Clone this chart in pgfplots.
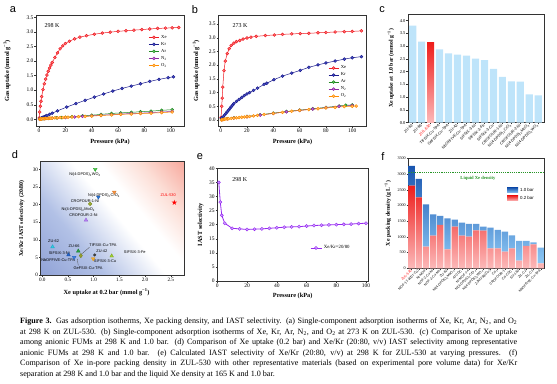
\documentclass[border=0pt]{standalone}
\usepackage{fontspec}
\setmainfont{Liberation Serif}
\newfontfamily\arial{Liberation Sans}
\newfontfamily\djv{DejaVu Sans}
\usepackage{pgfplots}
\pgfplotsset{compat=1.18}

\definecolor{xec}{RGB}{238,28,36}
\definecolor{xef}{RGB}{255,120,120}
\definecolor{krc}{RGB}{28,28,140}
\definecolor{krf}{RGB}{70,80,200}
\definecolor{arc}{RGB}{34,139,34}
\definecolor{arf}{RGB}{100,200,100}
\definecolor{nnc}{RGB}{140,40,160}
\definecolor{nnf}{RGB}{200,110,220}
\definecolor{ooc}{RGB}{255,140,0}
\definecolor{oof}{RGB}{255,195,110}
\definecolor{lblue}{RGB}{190,228,250}
\definecolor{selc}{RGB}{150,40,240}
\definecolor{self}{RGB}{205,160,255}
\definecolor{redtop}{RGB}{238,30,28}
\definecolor{redbot}{RGB}{252,185,185}
\definecolor{bluetop}{RGB}{25,85,175}
\definecolor{bluebot}{RGB}{140,200,245}
\definecolor{liqg}{RGB}{40,150,40}
\definecolor{bg1}{RGB}{118,138,202}
\definecolor{bg2}{RGB}{178,193,230}
\definecolor{bg3}{RGB}{252,222,214}
\definecolor{bg4}{RGB}{243,108,92}
\pgfdeclarehorizontalshading{dshade}{100bp}{color(0bp)=(bg1); color(34bp)=(bg2); color(52bp)=(white); color(60bp)=(white); color(72bp)=(bg3); color(100bp)=(bg4)}

\newcommand{\fs}[1]{\fontsize{#1}{#1}\selectfont}

\pgfplotsset{
  base/.style={scale only axis, anchor=north west,
    axis line style={black!80, line width=0.45pt},
    every tick/.style={black!80, line width=0.4pt},
    tick align=outside, major tick length=1.6pt,
    xtick pos=bottom, ytick pos=left,
    /pgf/number format/assume math mode=true,
    /pgf/number format/1000 sep={},
    scaled ticks=false,
    tick label style={inner sep=0.8pt},
    label style={font=\fs{6.3}\bfseries, inner sep=0pt},
  },
  iso/.style={mark=*, mark size=1.45pt, line width=0.5pt},
  isoleg/.style={legend image code/.code={\draw[mark repeat=2,mark phase=2,##1] plot coordinates {(0pt,0pt)(5pt,0pt)(10pt,0pt)};}},
  onedec/.style={/pgf/number format/fixed, /pgf/number format/fixed zerofill, /pgf/number format/precision=1},
}

\begin{document}
\begin{tikzpicture}
\useasboundingbox (0,0) rectangle (557pt,-383pt);

% panel letters
\node[font=\arial\fs{11}] at (13pt,-10pt) {a};
\node[font=\arial\fs{11}] at (195pt,-10pt) {b};
\node[font=\arial\fs{11}] at (382pt,-10pt) {c};
\node[font=\arial\fs{11}] at (15pt,-155pt) {d};
\node[font=\arial\fs{11}] at (200pt,-157pt) {e};
\node[font=\arial\fs{11}] at (383pt,-157pt) {f};

% ---------------- panel a ----------------
\begin{axis}[base, isoleg, at={(36pt,-15pt)}, width=148pt, height=111.7pt,
  xmin=-2.3, xmax=110, ymin=-0.254, ymax=3.58,
  xtick={0,20,...,100}, ytick={0,0.5,...,3.5},
  yticklabel style={onedec},
  tick label style={font=\fs{5.5}},
  xlabel={Pressure (kPa)}, ylabel={Gas uptake (mmol g\textsuperscript{−1})},
  xlabel style={at={(axis description cs:0.5,-0.137)}, anchor=center},
  ylabel style={at={(axis description cs:-0.196,0.5)}, anchor=center},
  legend cell align=left,
  legend style={at={(axis description cs:0.76,0.84)}, anchor=north west, draw=none, fill=none, font=\fs{4.6}, row sep=-1.5pt, inner sep=0pt},
]
\addplot[iso, color=xec, mark options={fill=xef}] coordinates {(0.2,0.05)(0.5,0.25)(1,0.45)(1.5,0.62)(2,0.78)(3,1.02)(4,1.22)(5,1.38)(6,1.52)(7,1.65)(8,1.76)(9,1.86)(10,1.95)(12,2.12)(14,2.28)(16,2.42)(18,2.52)(20,2.6)(23,2.68)(27,2.76)(31,2.82)(36,2.87)(42,2.92)(48,2.96)(54,2.99)(60,3.02)(66,3.04)(72,3.06)(78,3.08)(84,3.1)(90,3.12)(96,3.13)(101,3.14)(106,3.15)};
\addlegendentry{Xe}
\addplot[iso, color=krc, mark options={fill=krf}] coordinates {(0.3,0.01)(1,0.03)(2,0.05)(3,0.07)(4,0.09)(5,0.11)(6,0.13)(8,0.17)(10,0.21)(14,0.29)(21,0.42)(28,0.54)(35,0.65)(42,0.76)(49,0.87)(56,0.97)(63,1.06)(70,1.14)(77,1.22)(84,1.3)(91,1.37)(98,1.43)(102,1.46)};
\addlegendentry{Kr}
\addplot[iso, color=arc, mark options={fill=arf}] coordinates {(0.5,0.01)(1,0.01)(2,0.02)(3,0.02)(5,0.03)(7,0.03)(10,0.04)(13,0.05)(17,0.06)(20,0.07)(25,0.09)(33,0.12)(40,0.14)(47,0.17)(55,0.2)(62,0.22)(70,0.24)(77,0.26)(85,0.28)(93,0.31)(101,0.33)};
\addlegendentry{Ar}
\addplot[iso, color=nnc, mark options={fill=nnf}] coordinates {(0.5,0.0)(1,0.01)(2,0.01)(4,0.02)(7,0.03)(10,0.04)(14,0.05)(20,0.06)(27,0.08)(33,0.1)(40,0.12)(47,0.14)(55,0.16)(62,0.18)(70,0.2)(77,0.21)(85,0.23)(93,0.25)(101,0.27)};
\addlegendentry{N\textsubscript{2}}
\addplot[iso, color=ooc, mark options={fill=oof}] coordinates {(0.5,0.0)(1,0.01)(1.5,0.01)(2,0.01)(3,0.02)(4,0.02)(5,0.03)(6,0.03)(7,0.03)(8,0.04)(9,0.04)(10,0.04)(12,0.05)(14,0.05)(16,0.06)(18,0.06)(20,0.07)(22,0.07)(25,0.08)(30,0.09)(35,0.1)(40,0.11)(47,0.13)(55,0.15)(62,0.17)(70,0.18)(77,0.2)(85,0.21)(93,0.23)(101,0.25)};
\addlegendentry{O\textsubscript{2}}
\node[font=\fs{6}] at (axis description cs:0.108,0.91) {298 K};
\end{axis}

% ---------------- panel b ----------------
\begin{axis}[base, isoleg, at={(218.3pt,-15pt)}, width=148.4pt, height=111.7pt,
  xmin=-1.8, xmax=111, ymin=-0.244, ymax=3.828,
  xtick={0,20,...,100}, ytick={0,0.5,...,3.5},
  yticklabel style={onedec},
  tick label style={font=\fs{5.5}},
  xlabel={Pressure (kPa)}, ylabel={Gas uptake (mmol g\textsuperscript{−1})},
  xlabel style={at={(axis description cs:0.5,-0.137)}, anchor=center},
  ylabel style={at={(axis description cs:-0.15,0.5)}, anchor=center},
  legend cell align=left,
  legend style={at={(axis description cs:0.74,0.565)}, anchor=north west, draw=none, fill=none, font=\fs{4.6}, row sep=-1.5pt, inner sep=0pt},
]
\addplot[iso, color=xec, mark options={fill=xef}] coordinates {(0.3,0.1)(0.8,0.5)(1.2,0.8)(1.6,1.2)(2.5,1.8)(3.5,2.15)(5,2.42)(6.5,2.6)(8,2.72)(10,2.8)(12,2.86)(14.5,2.9)(17,2.95)(20,2.99)(23,3.02)(27,3.05)(34,3.08)(40.8,3.1)(47,3.12)(54,3.14)(60.5,3.15)(67,3.16)(74,3.18)(80,3.19)(87,3.21)(94,3.22)(100,3.23)(107,3.25)};
\addlegendentry{Xe}
\addplot[iso, color=krc, mark options={fill=krf}] coordinates {(0.5,0.05)(1,0.08)(2,0.12)(3,0.18)(4,0.24)(5,0.3)(6,0.36)(7,0.42)(8,0.48)(9,0.54)(10,0.6)(12,0.68)(14,0.75)(16,0.82)(18,0.89)(20,0.95)(22,1.0)(25,1.08)(28,1.16)(33,1.3)(35,1.34)(40.5,1.47)(47,1.6)(54,1.71)(60.5,1.81)(67,1.92)(74,2.01)(80,2.08)(87,2.15)(94,2.22)(100,2.27)(107,2.31)};
\addlegendentry{Kr}
\addplot[iso, color=arc, mark options={fill=arf}] coordinates {(1,0.02)(5,0.05)(10,0.08)(20,0.13)(30,0.19)(40,0.25)(50,0.31)(60,0.36)(70,0.41)(80,0.46)(90,0.51)(95,0.54)(100,0.55)};
\addlegendentry{Ar}
\addplot[iso, color=nnc, mark options={fill=nnf}] coordinates {(1,0.01)(5,0.04)(10,0.07)(20,0.12)(30,0.18)(40,0.24)(50,0.3)(60,0.35)(70,0.4)(80,0.45)(90,0.5)(100,0.53)};
\addlegendentry{N\textsubscript{2}}
\addplot[iso, color=ooc, mark options={fill=oof}] coordinates {(0.5,0.0)(1,0.01)(2,0.02)(3,0.03)(4,0.04)(5,0.04)(6,0.05)(8,0.06)(10,0.07)(12,0.08)(14,0.09)(16,0.1)(18,0.11)(20,0.12)(22,0.13)(25,0.15)(28,0.17)(33,0.2)(40,0.24)(47,0.28)(54,0.32)(60,0.35)(67,0.38)(74,0.41)(80,0.44)(87,0.46)(94,0.49)(100,0.5)(103,0.51)};
\addlegendentry{O\textsubscript{2}}
\node[font=\fs{6}] at (axis description cs:0.146,0.91) {273 K};
\end{axis}

% ---------------- panel c ----------------
\begin{axis}[base, at={(408pt,-14pt)}, width=136pt, height=108.7pt,
  xmin=-0.52, xmax=14.64, ymin=0, ymax=4.26,
  ytick={0,0.5,...,4}, yticklabel style={onedec},
  xtick={0,...,14},
  xticklabels={ZU-62,ZU-66,\textcolor{red}{ZUL-530},TIFSIX-Cu-TPA,GeFSIX-Cu-TPA,ZU-42,NbOFFIVE-Cu-TPA,SIFSIX-3-Ni,SIFSIX-3-Fe,SIFSIX-3-Cu,CROFOUR-1-Ni,{Ni(4-DPDS)\textsubscript{2}CrO\textsubscript{4}},CROFOUR-2-Ni,{Ni(4-DPDS)\textsubscript{2}MoO\textsubscript{4}},{Ni(4-DPDS)\textsubscript{2}WO\textsubscript{4}}},
  yticklabel style={font=\fs{4.5}},
  xticklabel style={font=\arial\fs{3.8}, rotate=45, anchor=east, inner sep=0.6pt},
  ylabel={Xe uptake at 1.0 bar (mmol g\textsuperscript{−1})},
  ylabel style={at={(axis description cs:-0.125,0.5)}, anchor=center, font=\fs{5.8}\bfseries},
]
\addplot[ybar, bar width=7.2pt, bar shift=0pt, fill=lblue, draw=none] coordinates {(0,3.8)(1,3.18)(3,2.87)(4,2.72)(5,2.67)(6,2.63)(7,2.51)(8,2.45)(9,2.11)(10,1.8)(11,1.62)(12,1.61)(13,1.11)(14,1.07)};
\addplot[ybar, bar width=7.2pt, bar shift=0pt, draw=none, top color=redtop, bottom color=redbot] coordinates {(2,3.13)};
\end{axis}

% ---------------- panel d ----------------
\begin{axis}[base, at={(40.7pt,-161pt)}, width=143.3pt, height=114.7pt,
  xmin=-0.031, xmax=2.757, ymin=-0.2, ymax=32.36,
  xtick={0,0.5,...,2.5}, xticklabel style={onedec},
  ytick={0,5,...,30},
  tick label style={font=\fs{5.2}},
  axis on top,
  xlabel={Xe uptake at 0.2 bar (mmol g\textsuperscript{−1})},
  ylabel={Xe/Kr IAST selectivity (20/80)},
  xlabel style={at={(axis description cs:0.46,-0.142)}, anchor=center},
  ylabel style={at={(axis description cs:-0.133,0.5)}, anchor=center, font=\fs{5.9}\bfseries},
]
\shade[shading=dshade, shading angle=40] (rel axis cs:0,0) rectangle (rel axis cs:1,1);
\addplot[only marks, mark=triangle*, mark size=2.1pt, mark options={rotate=180, fill={rgb,255:red,70;green,200;blue,70}, draw={rgb,255:red,40;green,160;blue,40}}] coordinates {(1.03,30.0)};
\addplot[only marks, mark=triangle*, mark size=2.1pt, mark options={rotate=180, fill={rgb,255:red,245;green,150;blue,70}, draw={rgb,255:red,220;green,120;blue,40}}] coordinates {(1.40,23.5)};
\addplot[only marks, mark=triangle*, mark size=2.1pt, mark options={rotate=180, fill={rgb,255:red,40;green,120;blue,210}, draw={rgb,255:red,30;green,90;blue,180}}] coordinates {(1.09,22.1)};
\addplot[only marks, mark=*, mark size=1.8pt, mark options={fill={rgb,255:red,160;green,175;blue,50}, draw={rgb,255:red,120;green,135;blue,30}}] coordinates {(0.93,20.2)};
\addplot[only marks, mark=triangle*, mark size=2.1pt, mark options={fill={rgb,255:red,185;green,130;blue,240}, draw={rgb,255:red,150;green,100;blue,220}}] coordinates {(0.85,15.6)};
\addplot[only marks, mark=triangle*, mark size=2.1pt, mark options={fill={rgb,255:red,50;green,205;blue,225}, draw={rgb,255:red,30;green,170;blue,200}}] coordinates {(0.20,8.0)};
\addplot[only marks, mark=triangle*, mark size=2.1pt, mark options={fill={rgb,255:red,40;green,165;blue,70}, draw={rgb,255:red,30;green,130;blue,50}}] coordinates {(0.70,6.8)};
\addplot[only marks, mark=triangle*, mark size=2.1pt, mark options={fill={rgb,255:red,35;green,100;blue,200}, draw={rgb,255:red,25;green,80;blue,170}}] coordinates {(0.51,5.7)};
\addplot[only marks, mark=triangle*, mark size=2.1pt, mark options={rotate=180, fill={rgb,255:red,60;green,130;blue,225}, draw={rgb,255:red,40;green,100;blue,200}}] coordinates {(0.62,5.0)};
\addplot[only marks, mark=diamond*, mark size=2.1pt, mark options={fill={rgb,255:red,150;green,160;blue,45}, draw={rgb,255:red,120;green,130;blue,30}}] coordinates {(0.75,5.5)};
\addplot[only marks, mark=*, mark size=1.3pt, mark options={fill={rgb,255:red,70;green,70;blue,70}, draw={rgb,255:red,50;green,50;blue,50}}] coordinates {(1.02,5.7)};
\addplot[only marks, mark=triangle*, mark size=2.1pt, mark options={rotate=180, fill={rgb,255:red,245;green,175;blue,45}, draw={rgb,255:red,220;green,150;blue,30}}] coordinates {(0.99,4.6)};
\addplot[only marks, mark=triangle*, mark size=2.1pt, mark options={fill={rgb,255:red,160;green,205;blue,50}, draw={rgb,255:red,130;green,175;blue,30}}] coordinates {(1.35,5.4)};
\addplot[only marks, mark=text, text mark={\textcolor{red}{\djv\fs{7.5}★}}] coordinates {(2.57,20.4)};
\draw[black!70, line width=0.3pt] (0.92,7.9) -- (0.76,5.9);
\draw[black!70, line width=0.3pt] (0.7,2.7) -- (0.68,4.6);
\begin{scope}[font=\arial\fs{3.9}]
\node at (0.83,28.4) {Ni(4-DPDS)\textsubscript{2}WO\textsubscript{4}};
\node[text=red] at (2.45,22.6) {ZUL-530};
\node at (1.20,22.6) {Ni(4-DPDS)\textsubscript{2}CrO\textsubscript{4}};
\node at (0.83,21.1) {CROFOUR-1-Ni};
\node at (0.70,18.7) {Ni(4-DPDS)\textsubscript{2}MoO\textsubscript{4}};
\node at (0.80,16.9) {CROFOUR-2-Ni};
\node at (0.22,9.6) {ZU-62};
\node at (0.62,8.1) {ZU-66};
\node at (1.18,8.6) {TIFSIX-Cu-TPA};
\node at (1.16,6.7) {ZU-42};
\node at (0.33,6.3) {SIFSIX-3-Ni};
\node at (1.80,6.5) {SIFSIX-3-Fe};
\node at (0.31,4.2) {NbOFFIVE-Cu-TPA};
\node at (1.22,3.9) {SIFSIX-3-Cu};
\node at (0.89,2.0) {GeFSIX-Cu-TPA};
\end{scope}
\end{axis}

% ---------------- panel e ----------------
\begin{axis}[base, at={(217.3pt,-168.3pt)}, width=150.7pt, height=112.7pt,
  xmin=0, xmax=101.3, ymin=0, ymax=40,
  xtick={0,20,...,100}, ytick={0,5,...,40},
  tick label style={font=\fs{5.5}},
  xlabel={Pressure (kPa)}, ylabel={IAST selectivity},
  xlabel style={at={(axis description cs:0.5,-0.133)}, anchor=center},
  ylabel style={at={(axis description cs:-0.11,0.5)}, anchor=center},
  legend style={at={(axis description cs:0.615,0.293)}, anchor=west, draw=none, fill=none, font=\fs{4.8}, inner sep=0pt},
  legend image code/.code={\draw[mark repeat=2,mark phase=2,#1] plot coordinates {(0pt,0pt)(5.5pt,0pt)(11pt,0pt)};},
]
\addplot[selc, line width=0.8pt, mark=*, mark size=1.6pt, mark options={fill=self, draw=selc, line width=0.4pt}] coordinates {(1,35)(2,28)(3,23.3)(5,20.5)(10,18.7)(15,18.5)(20,18.3)(25,18.4)(30,18.5)(35,18.7)(40,18.9)(45,19.1)(50,19.2)(55,19.3)(60,19.5)(65,19.7)(70,19.8)(75,19.9)(80,20.0)(85,20.1)(90,20.2)(95,20.4)(100,20.5)};
\addlegendentry{Xe/Kr=20/80}
\node[font=\fs{6}] at (axis description cs:0.15,0.896) {298 K};
\end{axis}

% ---------------- panel f ----------------
\begin{axis}[base, at={(408.3pt,-158.3pt)}, width=135.7pt, height=110pt,
  ybar stacked, bar width=6.3pt,
  xmin=-0.47, xmax=18.46, ymin=0, ymax=3500,
  ytick={0,500,...,3500},
  xtick={0,...,18},
  xticklabels={\textcolor{red}{ZUL-530},MOF-11 (AlCl-Cu),Ni-MOF,NOF-2-Cu-Ni,NOF-2-Cu-Mn,ZU-62,{Ni(4-DPDS)\textsubscript{2}MoO\textsubscript{4}},Al-CDC,Ni-MOF-74,{Ni(4-DPDS)\textsubscript{2}CrO\textsubscript{4}},{Ni(4-DPDS)\textsubscript{2}WO\textsubscript{4}},ZJNU-98(Cu),Co\textsubscript{3},CROFOUR-1,Co-CDC,SU-160,ZIL-C2,ZIL-C1,NbOFFIVE-Cu-TPA},
  yticklabel style={font=\fs{4.1}},
  xticklabel style={font=\arial\fs{3.4}, rotate=45, anchor=east, inner sep=0.6pt},
  ylabel={Xe packing density (g L\textsuperscript{−1})},
  ylabel style={at={(axis description cs:-0.15,0.5)}, anchor=center, font=\fs{5.8}\bfseries},
  reverse legend,
  legend style={at={(axis description cs:0.727,0.75)}, anchor=north west, draw=none, fill=none, font=\arial\fs{4.4}, row sep=-0.8pt, inner sep=0pt},
  legend image code/.code={\fill[#1] (0pt,-2.6pt) rectangle (11pt,2.6pt);},
]
\addplot[draw=none, top color=redtop, bottom color=redbot] coordinates {(0,2630)(1,2260)(2,690)(3,1040)(4,1380)(5,605)(6,1326)(7,1040)(8,1008)(9,1209)(10,1198)(11,636)(12,636)(13,530)(14,636)(15,244)(16,710)(17,764)(18,159)};
\addlegendentry{0.2 bar}
\addplot[draw=none, top color=bluetop, bottom color=bluebot] coordinates {(0,626)(1,582)(2,1346)(3,678)(4,285)(5,986)(6,222)(7,413)(8,403)(9,202)(10,128)(11,658)(12,584)(13,637)(14,414)(15,626)(16,160)(17,63)(18,499)};
\addlegendentry{1.0 bar}
\end{axis}
\begin{axis}[scale only axis, anchor=north west, at={(408.3pt,-158.3pt)}, width=135.7pt, height=110pt,
  xmin=-0.47, xmax=18.46, ymin=0, ymax=3500, hide axis]
\addplot[liqg, dashed, dash pattern=on 1.3pt off 0.9pt, line width=0.6pt] coordinates {(-0.47,3050)(18.46,3050)};
\node[font=\fs{4.6}\bfseries, text=liqg] at (9.25,2873) {Liquid Xe density};
\end{axis}

% ---------------- caption ----------------
\node[anchor=north west, inner sep=0pt, text width=497pt, align=justify, font=\fontsize{8.1}{10.6}\selectfont] at (20pt,-317.5pt) {\textbf{Figure 3.} Gas adsorption isotherms, Xe packing density, and IAST selectivity. (a) Single-component adsorption isotherms of Xe, Kr, Ar, N\textsubscript{2}, and O\textsubscript{2}\linebreak
at 298 K on ZUL-530. (b) Single-component adsorption isotherms of Xe, Kr, Ar, N\textsubscript{2}, and O\textsubscript{2} at 273 K on ZUL-530. (c) Comparison of Xe uptake\linebreak
among anionic FUMs at 298 K and 1.0 bar. (d) Comparison of Xe uptake (0.2 bar) and Xe/Kr (20:80, v/v) IAST selectivity among representative\linebreak
anionic FUMs at 298 K and 1.0 bar. (e) Calculated IAST selectivity of Xe/Kr (20:80, v/v) at 298 K for ZUL-530 at varying pressures. (f)\linebreak
Comparison of Xe in-pore packing density in ZUL-530 with other representative materials (based on experimental pore volume data) for Xe/Kr\linebreak
separation at 298 K and 1.0 bar and the liquid Xe density at 165 K and 1.0 bar.};
\end{tikzpicture}
\end{document}
